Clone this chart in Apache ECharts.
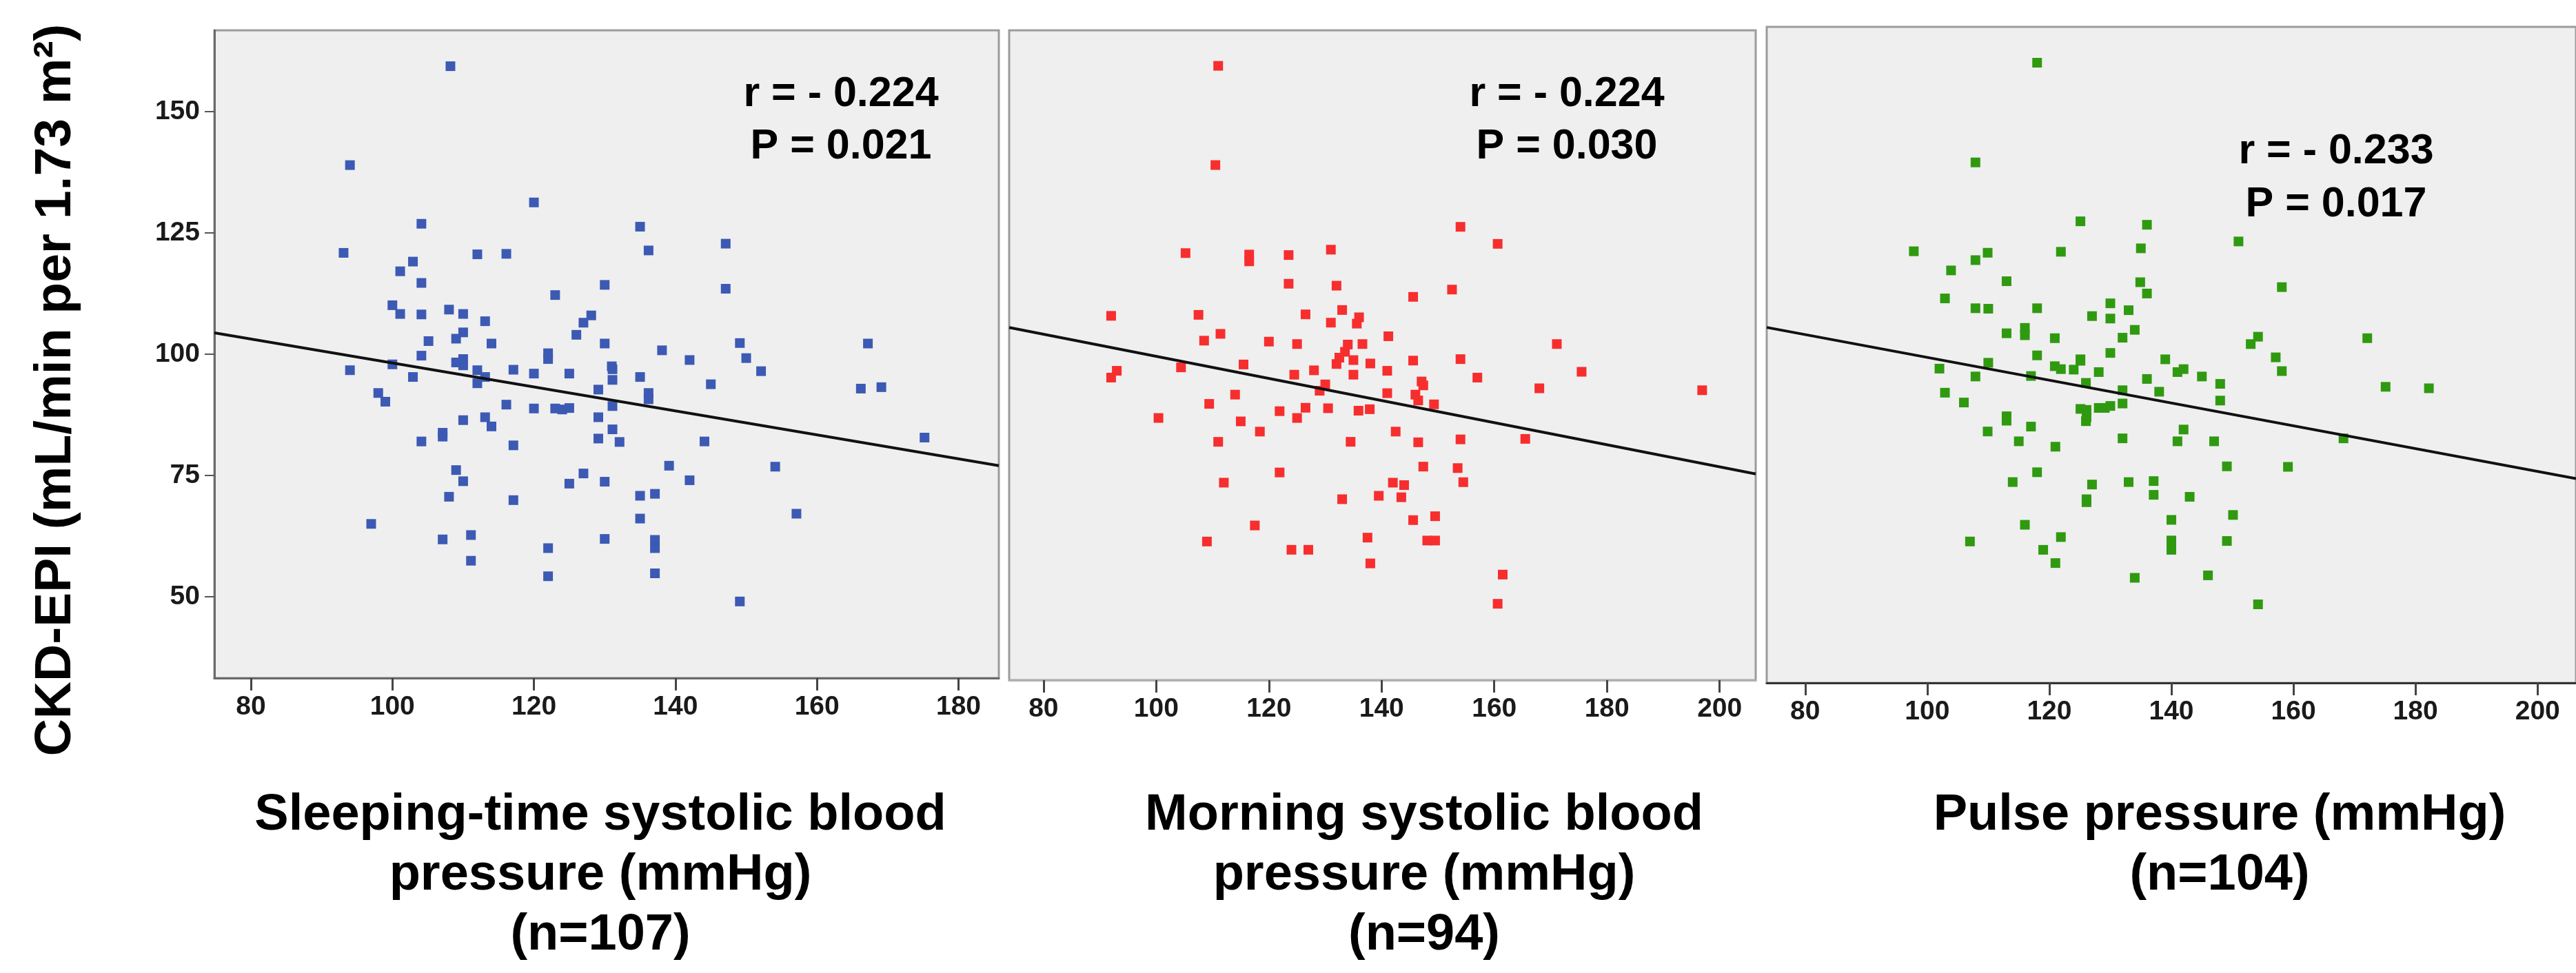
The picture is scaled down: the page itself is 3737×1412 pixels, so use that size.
<!DOCTYPE html>
<html>
<head>
<meta charset="utf-8">
<script src="https://cdn.jsdelivr.net/npm/echarts@6/dist/echarts.min.js"></script>
<style>
html,body{margin:0;padding:0;background:#fff;}
#chart{width:3737px;height:1412px;}
</style>
</head>
<body>
<div id="chart"></div>
<script>
// values
const sleepingPoints=[
[108.2,159.4],[94.0,139.0],[120.0,131.3],[104.1,126.9],[135.0,126.3],[147.1,122.8],[93.1,120.9],[112.0,120.6],
[116.1,120.7],[136.2,121.4],[102.9,119.1],[101.1,117.1],[104.1,114.7],[130.0,114.3],[147.1,113.5],[123.0,112.2],
[100.0,110.1],[101.1,108.3],[104.1,108.2],[108.0,109.2],[110.0,108.3],[113.1,106.8],[128.1,108.0],[127.0,106.5],
[126.0,104.0],[110.0,104.5],[109.0,103.2],[105.1,102.7],[114.0,102.2],[130.0,102.2],[149.1,102.3],[167.2,102.2],
[138.1,100.8],[122.0,100.2],[122.0,99.0],[104.1,99.7],[142.0,98.8],[150.0,99.2],[100.0,97.9],[109.0,98.3],
[110.0,97.7],[94.0,96.7],[112.0,96.7],[117.1,96.8],[120.0,96.0],[125.0,96.0],[131.1,96.9],[152.1,96.5],
[102.9,95.3],[113.1,95.3],[112.0,94.0],[131.1,94.7],[135.0,95.3],[145.0,93.8],[166.2,92.9],[169.1,93.2],
[98.0,92.0],[129.1,92.7],[136.2,92.0],[136.2,90.7],[99.0,90.2],[116.1,89.6],[120.0,88.8],[123.0,88.8],
[124.0,88.6],[125.0,88.9],[131.1,89.3],[129.1,87.0],[113.1,87.0],[110.0,86.4],[114.0,85.1],[131.1,84.5],
[107.1,83.8],[107.1,83.0],[104.1,82.0],[129.1,82.6],[132.1,81.9],[144.1,82.0],[175.2,82.8],[117.1,81.2],
[139.1,77.0],[154.1,76.8],[109.0,76.1],[127.0,75.4],[110.0,73.8],[125.0,73.3],[130.0,73.7],[142.0,74.0],
[108.0,70.6],[135.0,70.8],[137.1,71.2],[117.1,69.9],[157.1,67.1],[135.0,66.1],[97.0,65.0],[111.1,62.7],
[107.1,61.8],[130.0,61.9],[137.1,61.7],[137.1,60.0],[122.0,60.0],[111.1,57.4],[122.0,54.2],[137.1,54.8],
[149.1,49.0],[110.0,99.0],[131.0,97.5]
];
const morningPoints=[
[111.0,159.5],[110.5,139.1],[154.0,126.4],[160.6,122.9],[105.2,121.0],[116.5,120.7],[116.5,119.3],[123.5,120.6],
[131.0,121.7],[123.5,114.7],[132.0,114.3],[152.5,113.5],[145.6,112.0],[133.0,109.3],[92.0,108.1],[107.5,108.3],
[126.5,108.4],[136.0,107.8],[131.0,106.7],[135.6,106.5],[111.4,104.4],[141.2,103.9],[108.5,103.0],[120.0,102.8],
[125.0,102.3],[134.0,102.2],[136.6,102.3],[171.1,102.3],[133.5,100.7],[132.5,99.5],[135.0,99.0],[132.0,98.2],
[145.6,98.9],[154.0,99.2],[138.0,98.3],[115.5,98.1],[104.4,97.5],[93.0,96.8],[92.0,95.4],[141.0,96.8],
[128.0,96.9],[135.0,96.0],[124.5,96.0],[175.5,96.6],[157.0,95.4],[147.1,94.6],[147.4,93.8],[130.0,94.0],
[129.0,92.7],[168.0,93.2],[196.9,92.8],[114.0,91.9],[141.0,92.2],[146.0,91.9],[146.5,90.7],[149.3,89.9],
[109.4,90.0],[126.5,89.2],[130.5,89.1],[135.9,88.6],[137.9,88.9],[121.9,88.5],[125.0,87.1],[100.4,87.1],
[115.0,86.4],[118.4,84.3],[142.5,84.3],[165.5,82.8],[154.0,82.7],[111.0,82.2],[134.5,82.2],[146.5,82.1],
[147.4,77.1],[153.5,76.8],[121.9,75.9],[112.0,73.8],[142.0,73.8],[144.0,73.3],[154.5,73.9],[139.5,71.1],
[143.5,70.8],[133.0,70.4],[145.6,66.1],[149.5,66.9],[117.5,65.0],[109.0,61.7],[137.5,62.5],[148.1,61.9],
[149.5,61.9],[124.0,60.0],[127.0,60.0],[138.0,57.2],[161.5,54.9],[160.6,48.9]
];
const pulsePoints=[
[118.0,159.5],[107.9,139.2],[125.1,127.2],[136.0,126.5],[151.0,123.1],[97.8,121.1],[109.9,120.8],[121.9,121.0],
[135.0,121.7],[107.9,119.3],[103.9,117.2],[113.0,115.0],[134.9,114.8],[136.0,112.5],[158.1,113.8],[102.9,111.5],
[107.9,109.5],[110.0,109.4],[118.0,109.5],[130.0,110.5],[133.0,109.1],[127.0,107.9],[130.0,107.4],[134.0,105.1],
[116.0,105.5],[116.0,104.0],[113.0,104.4],[120.9,103.4],[132.0,103.5],[154.2,103.7],[153.0,102.2],[172.1,103.4],
[118.0,99.9],[130.0,100.4],[125.1,99.1],[139.0,99.1],[110.0,98.4],[157.1,99.5],[102.0,97.2],[120.9,97.7],
[121.9,97.1],[124.0,97.0],[125.1,98.8],[128.1,96.5],[141.0,96.5],[142.0,97.1],[158.1,96.7],[107.9,95.6],
[117.0,95.7],[136.0,95.1],[145.0,95.6],[126.0,94.3],[148.0,94.1],[175.1,93.5],[182.2,93.2],[102.9,92.3],
[132.0,92.8],[138.0,92.5],[106.0,90.3],[148.0,90.7],[132.0,90.1],[125.1,89.0],[126.1,88.8],[128.1,89.2],
[129.1,89.2],[130.0,89.6],[126.1,87.3],[113.0,87.5],[113.0,86.6],[117.0,85.4],[109.9,84.4],[142.0,84.8],
[141.0,82.4],[132.0,83.0],[147.0,82.4],[168.2,83.0],[115.0,82.4],[121.0,81.3],[149.1,77.3],[159.1,77.2],
[118.0,76.1],[114.0,74.1],[127.0,73.6],[133.0,74.1],[137.1,74.3],[137.1,71.5],[143.0,71.1],[126.1,70.6],
[126.1,70.0],[116.0,65.4],[140.0,66.4],[150.1,67.4],[107.0,62.0],[121.9,62.9],[140.0,62.2],[140.0,60.3],
[149.1,62.1],[119.0,60.3],[121.0,57.6],[134.0,54.6],[146.0,55.1],[154.2,49.2],[126.0,86.5],[140.0,61.2]
];

// fit lines, end points
const sleepingFit=[[74.84,104.4],[185.7,77.0]];
const morningFit=[[73.9,105.7],[206.4,75.6]];
const pulseFit=[[73.7,105.6],[206.3,74.8]];

const yTicks=[50,75,100,125,150];
const xTicksSleeping=[80,100,120,140,160,180];
const xTicksWide=[80,100,120,140,160,180,200];

const statTexts=[
    ["r = - 0.224","P = 0.021"],
    ["r = - 0.224","P = 0.030"],
    ["r = - 0.233","P = 0.017"]
];
const captions=[
    ["Sleeping-time systolic blood","pressure (mmHg)","(n=107)"],
    ["Morning systolic blood","pressure (mmHg)","(n=94)"],
    ["Pulse pressure (mmHg)","(n=104)"]
];
const yTitle="CKD-EPI (mL/min per 1.73 m\u00b2)";

const FONT='"Liberation Sans", Arial, Helvetica, sans-serif';

const chart=echarts.init(document.getElementById("chart"),null,{renderer:"canvas"});

function xAxisFor(gridIndex,min,max,ticks,lineColor){
    return {
        type:"value",
        gridIndex:gridIndex,
        min:min,
        max:max,
        axisLine:{show:true,onZero:false,lineStyle:{color:lineColor,width:3}},
        axisTick:{show:true,length:18,customValues:ticks,lineStyle:{color:"#444",width:3}},
        axisLabel:{customValues:ticks,fontSize:39,fontWeight:"bold",fontFamily:FONT,color:"#1a1a1a",margin:23},
        splitLine:{show:false}
    };
}

function yAxisFor(gridIndex,withLabels){
    return {
        type:"value",
        gridIndex:gridIndex,
        min:33.2,
        max:166.8,
        axisLine:{show:withLabels,onZero:false,lineStyle:{color:"#6a6a6a",width:3}},
        axisTick:{show:withLabels,length:14,customValues:yTicks,lineStyle:{color:"#555",width:2}},
        axisLabel:{show:withLabels,customValues:yTicks,fontSize:39,fontWeight:"bold",fontFamily:FONT,color:"#1a1a1a",margin:21},
        splitLine:{show:false}
    };
}

function gridAt(left,top,width,height){
    return {
        left:left,top:top,width:width,height:height,
        show:true,
        backgroundColor:"#efefef",
        borderColor:"#9c9c9c",
        borderWidth:3
    };
}

function scatterSeries(idx,points,color){
    return {
        type:"scatter",
        xAxisIndex:idx,
        yAxisIndex:idx,
        symbol:"rect",
        symbolSize:14,
        itemStyle:{color:color,opacity:1},
        data:points,
        z:3
    };
}

function fitSeries(idx,points){
    return {
        type:"line",
        xAxisIndex:idx,
        yAxisIndex:idx,
        symbol:"none",
        lineStyle:{color:"#111",width:4},
        data:points,
        z:4
    };
}

const statPos=[[1220,99.75,75.5],[2273,99.75,75.5],[3389,181.2,77.6]];
const captionX=[871,2066,3220];

const graphics=[
    {
        type:"text",
        x:81,
        y:566,
        rotation:Math.PI/2,
        style:{text:yTitle,fill:"#000",fontSize:75,fontWeight:"bold",fontFamily:FONT,align:"center",verticalAlign:"middle"}
    }
];

statTexts.forEach((lines,i)=>{
    graphics.push({
        type:"text",
        x:statPos[i][0],
        y:statPos[i][1],
        z:10,
        style:{text:lines.join("\n"),fill:"#000",fontSize:61,fontWeight:"bold",fontFamily:FONT,
            align:"center",verticalAlign:"top",lineHeight:statPos[i][2]}
    });
});

captions.forEach((lines,i)=>{
    graphics.push({
        type:"text",
        x:captionX[i],
        y:1140.5,
        style:{text:lines.join("\n"),fill:"#000",fontSize:74,fontWeight:"bold",fontFamily:FONT,
            align:"center",verticalAlign:"top",lineHeight:87}
    });
});

chart.setOption({
    animation:false,
    backgroundColor:"#ffffff",
    grid:[
        gridAt(311,44,1138,940),
        gridAt(1464,44,1083,943),
        gridAt(2563,39,1200,952)
    ],
    xAxis:[
        xAxisFor(0,74.84,185.7,xTicksSleeping,"#6a6a6a"),
        xAxisFor(1,73.9,206.4,xTicksWide,"#b0b0b0"),
        xAxisFor(2,73.7,206.3,xTicksWide,"#333")
    ],
    yAxis:[
        yAxisFor(0,true),
        yAxisFor(1,false),
        yAxisFor(2,false)
    ],
    series:[
        scatterSeries(0,sleepingPoints,"#3c5ab4"),
        fitSeries(0,sleepingFit),
        scatterSeries(1,morningPoints,"#f72e2e"),
        fitSeries(1,morningFit),
        scatterSeries(2,pulsePoints,"#2f9a10"),
        fitSeries(2,pulseFit)
    ],
    graphic:graphics
});

window.addEventListener("resize",()=>chart.resize());
</script>
</body>
</html>
